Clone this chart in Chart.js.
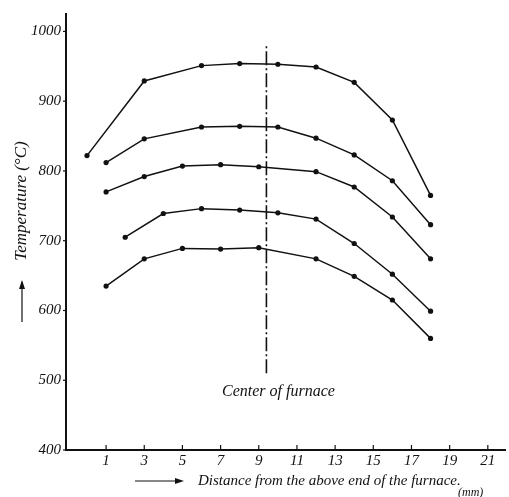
<!DOCTYPE html>
<html>
<head>
<meta charset="utf-8">
<script src="https://cdn.jsdelivr.net/npm/chart.js@4/dist/chart.umd.min.js"></script>
<style>
  html, body { margin: 0; padding: 0; background: #fff; }
  #wrap { width: 509px; height: 497px; }
</style>
</head>
<body>
<div id="wrap"><canvas id="furnaceChart" width="509" height="497"></canvas></div>
<script>
// tick labels
const xTicks = [1, 3, 5, 7, 9, 11, 13, 15, 17, 19, 21];
const yTicks = [400, 500, 600, 700, 800, 900, 1000];

// distance positions and temperatures (°C) for each curve, top to bottom
const run1X = [0, 3, 6, 8, 10, 12, 14, 16, 18];
const run1T = [822, 929, 951, 954, 953, 949, 927, 873, 765];
const run2X = [1, 3, 6, 8, 10, 12, 14, 16, 18];
const run2T = [812, 846, 863, 864, 863, 847, 823, 786, 723];
const run3X = [1, 3, 5, 7, 9, 12, 14, 16, 18];
const run3T = [770, 792, 807, 809, 806, 799, 777, 734, 674];
const run4X = [2, 4, 6, 8, 10, 12, 14, 16, 18];
const run4T = [705, 739, 746, 744, 740, 731, 696, 652, 599];
const run5X = [1, 3, 5, 7, 9, 12, 14, 16, 18];
const run5T = [635, 674, 689, 688, 690, 674, 649, 615, 560];

// center of furnace marker
const centerX = 9.4;
const centerSpan = [510, 983];
const centerLabel = 'Center of furnace';

const runs = [[run1X, run1T], [run2X, run2T], [run3X, run3T], [run4X, run4T], [run5X, run5T]];
const ink = '#111';
const italic = "italic 15px 'Liberation Serif'";

const datasets = runs.map(([xs, ts]) => ({
    data: xs.map((x, i) => ({ x: x, y: ts[i] })),
    borderColor: ink,
    backgroundColor: ink,
    borderWidth: 1.5,
    pointRadius: 2.6,
    pointBackgroundColor: ink,
    pointBorderWidth: 0,
    tension: 0
}));

datasets.push({
    data: centerSpan.map(v => ({ x: centerX, y: v })),
    borderColor: ink,
    borderWidth: 1.6,
    borderDash: [14, 3, 2, 3],
    pointRadius: 0
});

// titles, arrows, tick marks and the centre label
const decorations = {
    id: 'decorations',
    afterDraw(chart) {
        const ctx = chart.ctx;
        const xs = chart.scales.x, ys = chart.scales.y;
        const area = chart.chartArea;
        ctx.save();
        ctx.strokeStyle = ink;
        ctx.fillStyle = ink;
        ctx.lineWidth = 1.2;

        // x tick marks point up into the plot
        xTicks.forEach(v => {
            const px = xs.getPixelForValue(v);
            ctx.beginPath();
            ctx.moveTo(px, area.bottom);
            ctx.lineTo(px, area.bottom - 5);
            ctx.stroke();
        });
        // y tick marks stick out to the left
        yTicks.forEach(v => {
            const py = ys.getPixelForValue(v);
            ctx.beginPath();
            ctx.moveTo(area.left, py);
            ctx.lineTo(area.left - 3, py);
            ctx.stroke();
        });

        // centre label
        ctx.font = "italic 16px 'Liberation Serif'";
        ctx.textAlign = 'center';
        ctx.textBaseline = 'middle';
        ctx.fillText(centerLabel, xs.getPixelForValue(centerX) + 12, ys.getPixelForValue(484));

        // y title, rotated
        ctx.save();
        ctx.translate(22, 201);
        ctx.rotate(-Math.PI / 2);
        ctx.font = "italic 17px 'Liberation Serif'";
        ctx.fillText('Temperature (°C)', 0, 0);
        ctx.restore();

        // up arrow below the y title
        ctx.beginPath();
        ctx.moveTo(22, 322);
        ctx.lineTo(22, 282);
        ctx.stroke();
        ctx.beginPath();
        ctx.moveTo(22, 280);
        ctx.lineTo(19, 289);
        ctx.lineTo(25, 289);
        ctx.closePath();
        ctx.fill();

        // right arrow before the x title
        ctx.beginPath();
        ctx.moveTo(135, 481);
        ctx.lineTo(181, 481);
        ctx.stroke();
        ctx.beginPath();
        ctx.moveTo(184, 481);
        ctx.lineTo(175, 478);
        ctx.lineTo(175, 484);
        ctx.closePath();
        ctx.fill();

        ctx.font = italic;
        ctx.textAlign = 'left';
        ctx.fillText('Distance from the above end of the furnace.', 198, 481);
        ctx.font = "italic 12px 'Liberation Serif'";
        ctx.fillText('(mm)', 458, 493);
        ctx.restore();
    }
};

new Chart(document.getElementById('furnaceChart'), {
    type: 'line',
    data: { datasets: datasets },
    plugins: [decorations],
    options: {
        responsive: false,
        animation: false,
        layout: { padding: { left: 0, top: 8, right: 4, bottom: 0 } },
        plugins: { legend: { display: false }, tooltip: { enabled: false } },
        scales: {
            x: {
                type: 'linear',
                min: -1.1,
                max: 21.9,
                afterBuildTicks: s => { s.ticks = xTicks.map(v => ({ value: v })); },
                afterFit: s => { s.height = 47; },
                grid: { display: false, drawTicks: false },
                border: { color: ink, width: 2 },
                ticks: { color: ink, font: { family: 'Liberation Serif', style: 'italic', size: 15 }, padding: 2, maxRotation: 0, callback: v => String(v) }
            },
            y: {
                min: 400,
                max: 1025,
                afterBuildTicks: s => { s.ticks = yTicks.map(v => ({ value: v })); },
                afterFit: s => { s.width = 66; },
                grid: { display: false, drawTicks: false },
                border: { color: ink, width: 2 },
                ticks: { color: ink, font: { family: 'Liberation Serif', style: 'italic', size: 15 }, padding: 5, callback: v => String(v) }
            }
        }
    }
});
</script>
</body>
</html>
